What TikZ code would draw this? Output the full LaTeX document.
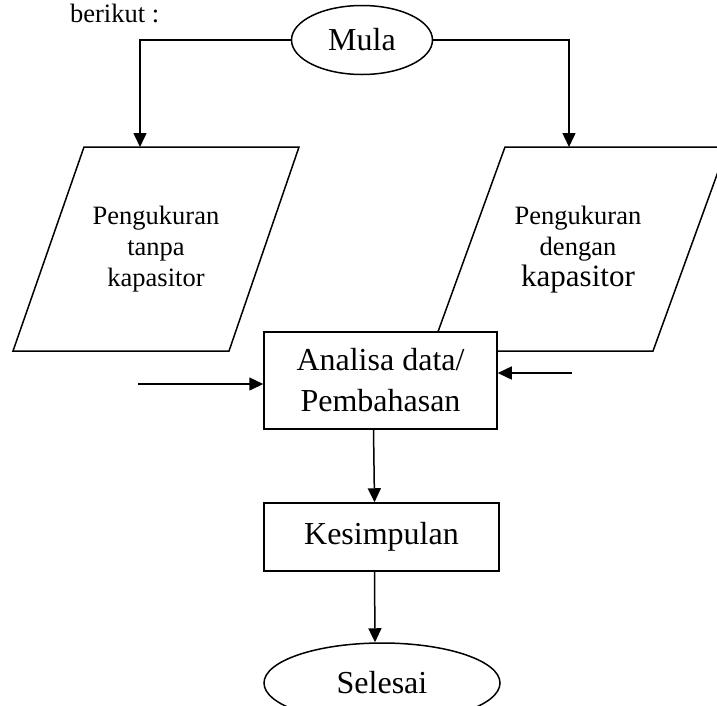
\documentclass[tikz,border=0pt]{standalone}
\usepackage{fontspec}
\setmainfont{Liberation Serif}
\usetikzlibrary{arrows.meta,shapes.geometric}
\begin{document}
\begin{tikzpicture}[x=1pt,y=-1pt,line width=1.5pt,
    >={Triangle[length=14pt,width=13pt]},
    big/.style={font=\fontsize{32}{41}\selectfont},
    small/.style={font=\fontsize{26.5}{31}\selectfont},
    terminal/.style={draw,ellipse,fill=white,inner sep=0pt,big},
    process/.style={draw,rectangle,fill=white,inner sep=0pt,align=center,big}]
  \useasboundingbox (0,0) rectangle (717,705);
  \clip (0,0) rectangle (717,705);
  \node[small,anchor=base west] (judul) at (66,22) {berikut :};
  \node[terminal,minimum width=141pt,minimum height=69pt] (mula) at (362,40) {Mula};
  \draw[fill=white] (84,147) -- (299,147) -- (229,351) -- (13,351) -- cycle;
  \node[small,align=center] (tanpa) at (156,249) {Pengukuran\\tanpa\\kapasitor};
  \draw[fill=white] (505,147) -- (727,147) -- (653,351) -- (431,351) -- cycle;
  \node[small,align=center] (dengan) at (578,250) {Pengukuran\\dengan\\{\fontsize{31}{32}\selectfont kapasitor}};
  \coordinate (atastanpa) at (140,147);
  \coordinate (atasdengan) at (569,147);
  \draw[->] (mula.west) -| (atastanpa);
  \draw[->] (mula.east) -| (atasdengan);
  \node[process,minimum width=233pt,minimum height=97pt] (analisa) at (380.5,380.5) {Analisa data/\\Pembahasan};
  \node[process,minimum width=235pt,minimum height=68pt] (kesim) at (381.5,537) {Kesimpulan};
  \node[terminal,minimum width=236pt,minimum height=80pt] (selesai) at (382,683) {Selesai};
  \coordinate (masukkiri) at (138,384);
  \coordinate (masukkanan) at (572,373);
  \draw[->] (masukkiri) -- (masukkiri -| analisa.west);
  \draw[->] (masukkanan) -- (masukkanan -| analisa.east);
  \draw[->] ([xshift=-7pt]analisa.south) -- ([xshift=-7pt]kesim.north);
  \draw[->] ([xshift=-7pt]kesim.south) -- ([xshift=-7pt]selesai.north);
\end{tikzpicture}
\end{document}
